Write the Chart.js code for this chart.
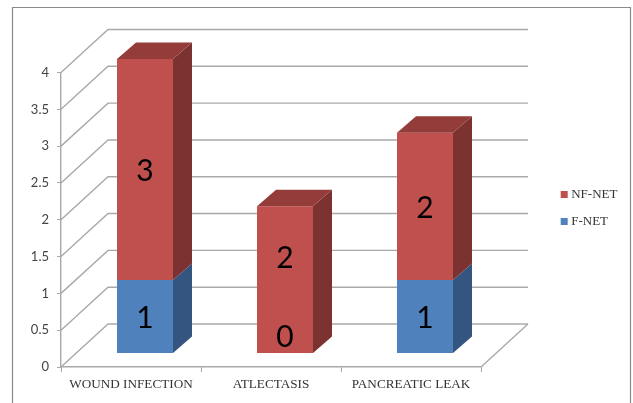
<!DOCTYPE html>
<html>
<head>
<meta charset="utf-8">
<style>html,body{margin:0;padding:0;background:#fff}#wrap{position:relative;width:633px;height:403px}</style>
<script src="https://cdn.jsdelivr.net/npm/chart.js@4/dist/chart.umd.min.js"></script>
</head>
<body>
<div id="wrap"><canvas id="c" width="633" height="403"></canvas></div>
<script>
const categories = ['WOUND INFECTION', 'ATLECTASIS', 'PANCREATIC LEAK'];
const fNet = [1, 0, 1];
const nfNet = [3, 2, 2];
const gridValues = [0, 0.5, 1, 1.5, 2, 2.5, 3, 3.5, 4];

const WALL = {dx: 47, dy: -43};      // depth of the back wall
const BAR_SHIFT = {dx: 14, dy: -13.5}; // bars stand in the middle of the floor
const BAR_DEPTH = {dx: 19, dy: -16.5};
const GRID = '#a9a9a9';

function poly(ctx, pts, fill) {
  ctx.beginPath();
  pts.forEach((p, i) => i ? ctx.lineTo(p[0], p[1]) : ctx.moveTo(p[0], p[1]));
  ctx.closePath();
  ctx.fillStyle = fill;
  ctx.fill();
}

// Back wall, floor and the outer frame of the picture
const wallPlugin = {
  id: 'wall',
  beforeDatasetsDraw(chart) {
    const {ctx, scales: {x, y}} = chart;
    ctx.save();
    ctx.strokeStyle = '#8a8a8a';
    ctx.lineWidth = 1.2;
    ctx.beginPath();
    ctx.moveTo(12.5, 403); ctx.lineTo(12.5, 7.5); ctx.lineTo(630.5, 7.5); ctx.lineTo(630.5, 403);
    ctx.stroke();
    ctx.strokeStyle = GRID;
    ctx.lineWidth = 1.4;
    gridValues.forEach(v => {
      const py = y.getPixelForValue(v);
      ctx.beginPath();
      ctx.moveTo(x.left, py);
      ctx.lineTo(x.left + WALL.dx, py + WALL.dy);
      ctx.lineTo(x.right + WALL.dx, py + WALL.dy);
      ctx.stroke();
    });
    const base = y.getPixelForValue(0);
    ctx.beginPath();
    ctx.moveTo(x.right, base);
    ctx.lineTo(x.right + WALL.dx, base + WALL.dy);
    ctx.stroke();
    ctx.restore();
    // The bars and their faces are drawn in the shifted frame
    ctx.save();
    ctx.translate(BAR_SHIFT.dx, BAR_SHIFT.dy);
  },
  afterDatasetsDraw(chart) {
    const {ctx} = chart;
    const {dx, dy} = BAR_DEPTH;
    chart.data.datasets.forEach((ds, d) => {
      chart.getDatasetMeta(d).data.forEach((bar, i) => {
        if (!ds.data[i]) return;
        const p = bar.getProps(['x', 'y', 'base', 'width'], true);
        const l = p.x - p.width / 2, r = p.x + p.width / 2;
        poly(ctx, [[r, p.y], [r + dx, p.y + dy], [r + dx, p.base + dy], [r, p.base]], ds.sideColor);
        if (d === chart.data.datasets.length - 1) {
          poly(ctx, [[l, p.y], [l + dx, p.y + dy], [r + dx, p.y + dy], [r, p.y]], ds.topColor);
        }
      });
    });
    // Value labels; where the lower segment is zero its label sits at the foot of the column
    ctx.font = '30px Lato';
    ctx.fillStyle = '#000';
    ctx.textAlign = 'center';
    ctx.textBaseline = 'middle';
    chart.data.datasets.forEach((ds, d) => {
      chart.getDatasetMeta(d).data.forEach((bar, i) => {
        const p = bar.getProps(['x', 'y', 'base'], true);
        const value = ds.data[i];
        let cy = (p.y + p.base) / 2 + 2;
        if (value === 0) cy = p.base - 16;
        else if (d > 0 && chart.data.datasets[d - 1].data[i] === 0) cy -= 23;
        ctx.fillText(String(value), p.x, cy);
      });
    });
    ctx.restore();
  }
};

// Reserves a fixed strip for the legend and sets it beside the floor
const legendPlacement = {
  id: 'legendPlacement',
  beforeLayout(chart) {
    const lg = chart.legend;
    if (!lg.fixedFit) {
      const fit = lg.fit;
      lg.fit = function () { fit.call(this); this.width = 152; };
      lg.fixedFit = true;
    }
  },
  afterLayout(chart) {
    const lg = chart.legend;
    const w = lg.right - lg.left, h = lg.bottom - lg.top;
    lg.left = 549.7; lg.right = lg.left + w;
    lg.top = 174; lg.bottom = lg.top + h;
    lg.adjustHitBoxes();
  }
};

new Chart(document.getElementById('c'), {
  type: 'bar',
  data: {
    labels: categories,
    datasets: [
      {label: 'F-NET', data: fNet, backgroundColor: '#4f81bd', sideColor: '#34557f', topColor: '#3f6797'},
      {label: 'NF-NET', data: nfNet, backgroundColor: '#c0504d', sideColor: '#7b3230', topColor: '#933c39'}
    ]
  },
  options: {
    responsive: false,
    animation: false,
    layout: {padding: {top: 72.5, left: 0, right: 0, bottom: 0}},
    datasets: {bar: {barPercentage: 0.4, categoryPercentage: 1}},
    scales: {
      x: {
        stacked: true,
        afterFit(s) { s.height = 36; },
        grid: {drawOnChartArea: false, tickLength: 5, tickColor: GRID, offset: true},
        border: {color: GRID, width: 1.4},
        ticks: {font: {family: 'Liberation Serif', size: 13.2}, color: '#333', padding: 5, maxRotation: 0, autoSkip: false}
      },
      y: {
        stacked: true,
        min: 0,
        max: 4,
        afterFit(s) { s.width = 61; },
        grid: {drawOnChartArea: false, tickLength: 4, tickColor: GRID},
        border: {color: GRID, width: 1.4},
        ticks: {stepSize: 0.5, font: {family: 'Lato', size: 13}, color: '#444', padding: 8, callback: v => String(v)}
      }
    },
    plugins: {
      tooltip: {enabled: false},
      legend: {
        position: 'right',
        align: 'start',
        reverse: true,
        labels: {
          usePointStyle: true,
          pointStyle: 'rect',
          boxHeight: 7,
          boxWidth: 1,
          padding: 14,
          color: '#333',
          font: {family: 'Liberation Serif', size: 13}
        }
      }
    }
  },
  plugins: [wallPlugin, legendPlacement]
});
</script>
</body>
</html>
